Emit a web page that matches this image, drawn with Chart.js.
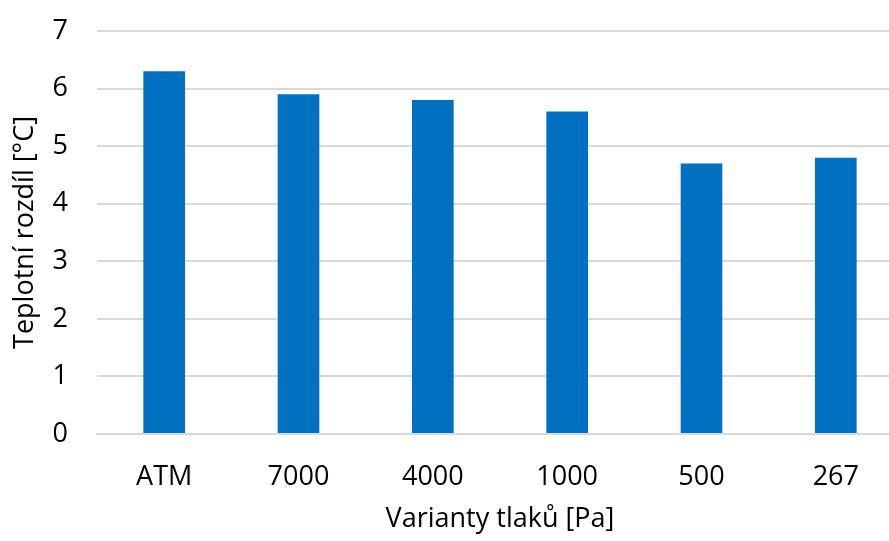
<!DOCTYPE html>
<html>
<head>
<meta charset="utf-8">
<script src="https://cdn.jsdelivr.net/npm/chart.js@4/dist/chart.umd.min.js"></script>
<style>
  html, body { margin: 0; padding: 0; background: #fff; overflow: hidden; }
  #wrap { width: 903px; height: 541px; }
</style>
</head>
<body>
<div id="wrap"><canvas id="chart" width="903" height="541"></canvas></div>
<script>
const categories = ["ATM", "7000", "4000", "1000", "500", "267"];
const values = [6.3, 5.9, 5.8, 5.6, 4.7, 4.8];
const xTitle = "Varianty tlaků [Pa]";
const yTitle = "Teplotní rozdíl [°C]";

const font = "'Open Sans', sans-serif";

new Chart(document.getElementById("chart").getContext("2d"), {
  type: "bar",
  data: {
    labels: categories,
    datasets: [
      {
        data: values,
        backgroundColor: "#0070c0",
        categoryPercentage: 1,
        barPercentage: 0.31,
      },
    ],
  },
  options: {
    responsive: false,
    animation: false,
    devicePixelRatio: 1,
    layout: { padding: { left: 0, right: 0, top: 31, bottom: 0 } },
    plugins: { legend: { display: false }, tooltip: { enabled: false } },
    scales: {
      x: {
        grid: { display: false },
        border: { color: "#d9d9d9", width: 2 },
        ticks: { color: "#000", font: { family: font, size: 27 }, padding: 19 },
        title: {
          display: true,
          text: xTitle,
          color: "#000",
          font: { family: font, size: 27 },
          padding: { top: 5, bottom: 5 },
        },
        afterFit: (s) => {
          s.height = 107;
          s.paddingLeft = 0;
          s.paddingRight = 0;
        },
      },
      y: {
        min: 0,
        max: 7,
        ticks: { stepSize: 1, color: "#000", font: { family: font, size: 27 }, padding: 29 },
        grid: { color: "#d9d9d9", lineWidth: 2, drawTicks: false },
        border: { display: false },
        title: {
          display: true,
          text: yTitle,
          color: "#000",
          font: { family: font, size: 27 },
          padding: { top: 9, bottom: 9 },
        },
        afterFit: (s) => {
          s.width = 97;
          s.paddingTop = 0;
          s.paddingBottom = 0;
        },
      },
    },
  },
});
</script>
</body>
</html>
